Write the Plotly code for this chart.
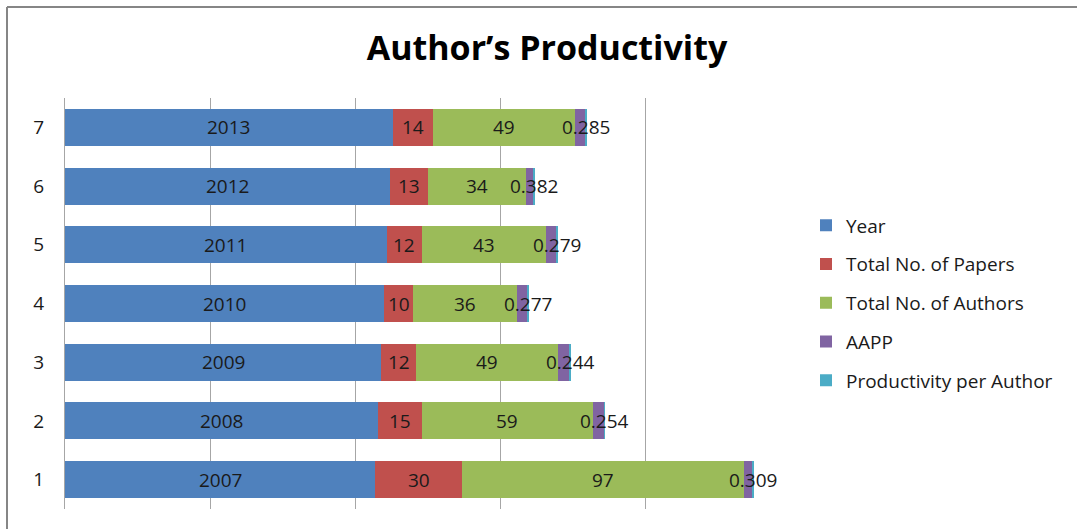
import plotly.graph_objects as go

# Row labels on the category axis (bottom to top)
rows = ["1", "2", "3", "4", "5", "6", "7"]

years = [2007, 2008, 2009, 2010, 2011, 2012, 2013]
total_papers = [30, 15, 12, 10, 12, 13, 14]
total_authors = [97, 59, 49, 36, 43, 34, 49]
aapp = [3.23, 3.93, 4.08, 3.60, 3.58, 2.62, 3.50]
productivity = [0.309, 0.254, 0.244, 0.277, 0.279, 0.382, 0.285]

X_MIN, X_MAX = 1900, 2150

colors = {
    "Year": "#4F81BD",
    "Total No. of Papers": "#C0504D",
    "Total No. of Authors": "#9BBB59",
    "AAPP": "#8064A2",
    "Productivity per Author": "#4BACC6",
}

FONT = "'Open Sans', Lato, sans-serif"
LABEL_SIZE = 19
TEXT_COLOR = "#1a1a1a"

fig = go.Figure()


def add_segment(name, values):
    fig.add_trace(go.Bar(
        name=name,
        y=rows,
        x=values,
        orientation="h",
        marker=dict(color=colors[name], line=dict(width=0)),
        legendgroup=name,
        hoverinfo="x+name",
    ))


add_segment("Year", years)
add_segment("Total No. of Papers", total_papers)
add_segment("Total No. of Authors", total_authors)
add_segment("AAPP", aapp)
add_segment("Productivity per Author", productivity)

# Data labels, each centred on its segment (the year segment is centred
# on the part that falls inside the axis range). On a category axis the
# annotation y is the category's index.
annotations = []


def add_labels(xs, texts):
    for idx, (x, t) in enumerate(zip(xs, texts)):
        annotations.append(dict(
            x=x, y=idx, xref="x", yref="y", text=t, showarrow=False,
            xanchor="center", yanchor="middle",
            font=dict(family=FONT, size=LABEL_SIZE, color=TEXT_COLOR),
        ))


ends_year = years
ends_papers = [a + b for a, b in zip(ends_year, total_papers)]
ends_authors = [a + b for a, b in zip(ends_papers, total_authors)]
ends_aapp = [a + b for a, b in zip(ends_authors, aapp)]

add_labels([(X_MIN + y) / 2 for y in years], [str(y) for y in years])
add_labels([e - v / 2 for e, v in zip(ends_papers, total_papers)],
           [str(v) for v in total_papers])
add_labels([e - v / 2 for e, v in zip(ends_authors, total_authors)],
           [str(v) for v in total_authors])
add_labels([e + v / 2 for e, v in zip(ends_aapp, productivity)],
           [f"{v:.3f}" for v in productivity])

# Plot area geometry in pixels
W, H = 1077, 529
L, R, T, B = 65, 790, 98, 509
pw, ph = R - L, B - T


def px_x(v):
    return (v - L) / pw


def px_y(v):
    return (B - v) / ph


fig.update_layout(
    width=W,
    height=H,
    margin=dict(l=L, r=W - R, t=T, b=H - B, pad=0),
    paper_bgcolor="white",
    plot_bgcolor="white",
    barmode="stack",
    bargap=0.37,
    font=dict(family=FONT, size=LABEL_SIZE, color=TEXT_COLOR),
    title=dict(
        text="<b>Author\u2019s Productivity</b>",
        font=dict(family=FONT, size=34, color="#000000"),
        x=547 / W,
        xanchor="center",
        y=1 - 48 / H,
        yanchor="middle",
    ),
    xaxis=dict(
        range=[X_MIN, X_MAX],
        dtick=50,
        tick0=X_MIN,
        showgrid=True,
        gridcolor="#a6a6a6",
        gridwidth=1,
        zeroline=False,
        showticklabels=False,
        showline=False,
        ticks="",
    ),
    yaxis=dict(
        type="category",
        categoryorder="array",
        categoryarray=rows,
        range=[-0.5, len(rows) - 0.5],
        showgrid=False,
        zeroline=False,
        showline=True,
        linecolor="#a6a6a6",
        linewidth=1,
        ticks="",
        ticklabelstandoff=16,
        tickfont=dict(family=FONT, size=LABEL_SIZE, color=TEXT_COLOR),
    ),
    legend=dict(
        x=px_x(806),
        xanchor="left",
        y=px_y(303),
        yanchor="middle",
        traceorder="grouped",
        tracegroupgap=11,
        font=dict(family=FONT, size=LABEL_SIZE, color=TEXT_COLOR),
        bgcolor="rgba(0,0,0,0)",
        itemwidth=30,
    ),
    showlegend=True,
    annotations=annotations,
    shapes=[
        # outer chart frame (top and left edges)
        dict(type="line", xref="paper", yref="paper",
             x0=px_x(7), x1=px_x(W + 5), y0=px_y(7), y1=px_y(7),
             line=dict(color="#868686", width=2)),
        dict(type="line", xref="paper", yref="paper",
             x0=px_x(7), x1=px_x(7), y0=px_y(7), y1=px_y(H + 5),
             line=dict(color="#868686", width=2)),
    ],
)

fig.write_html("out.html")
